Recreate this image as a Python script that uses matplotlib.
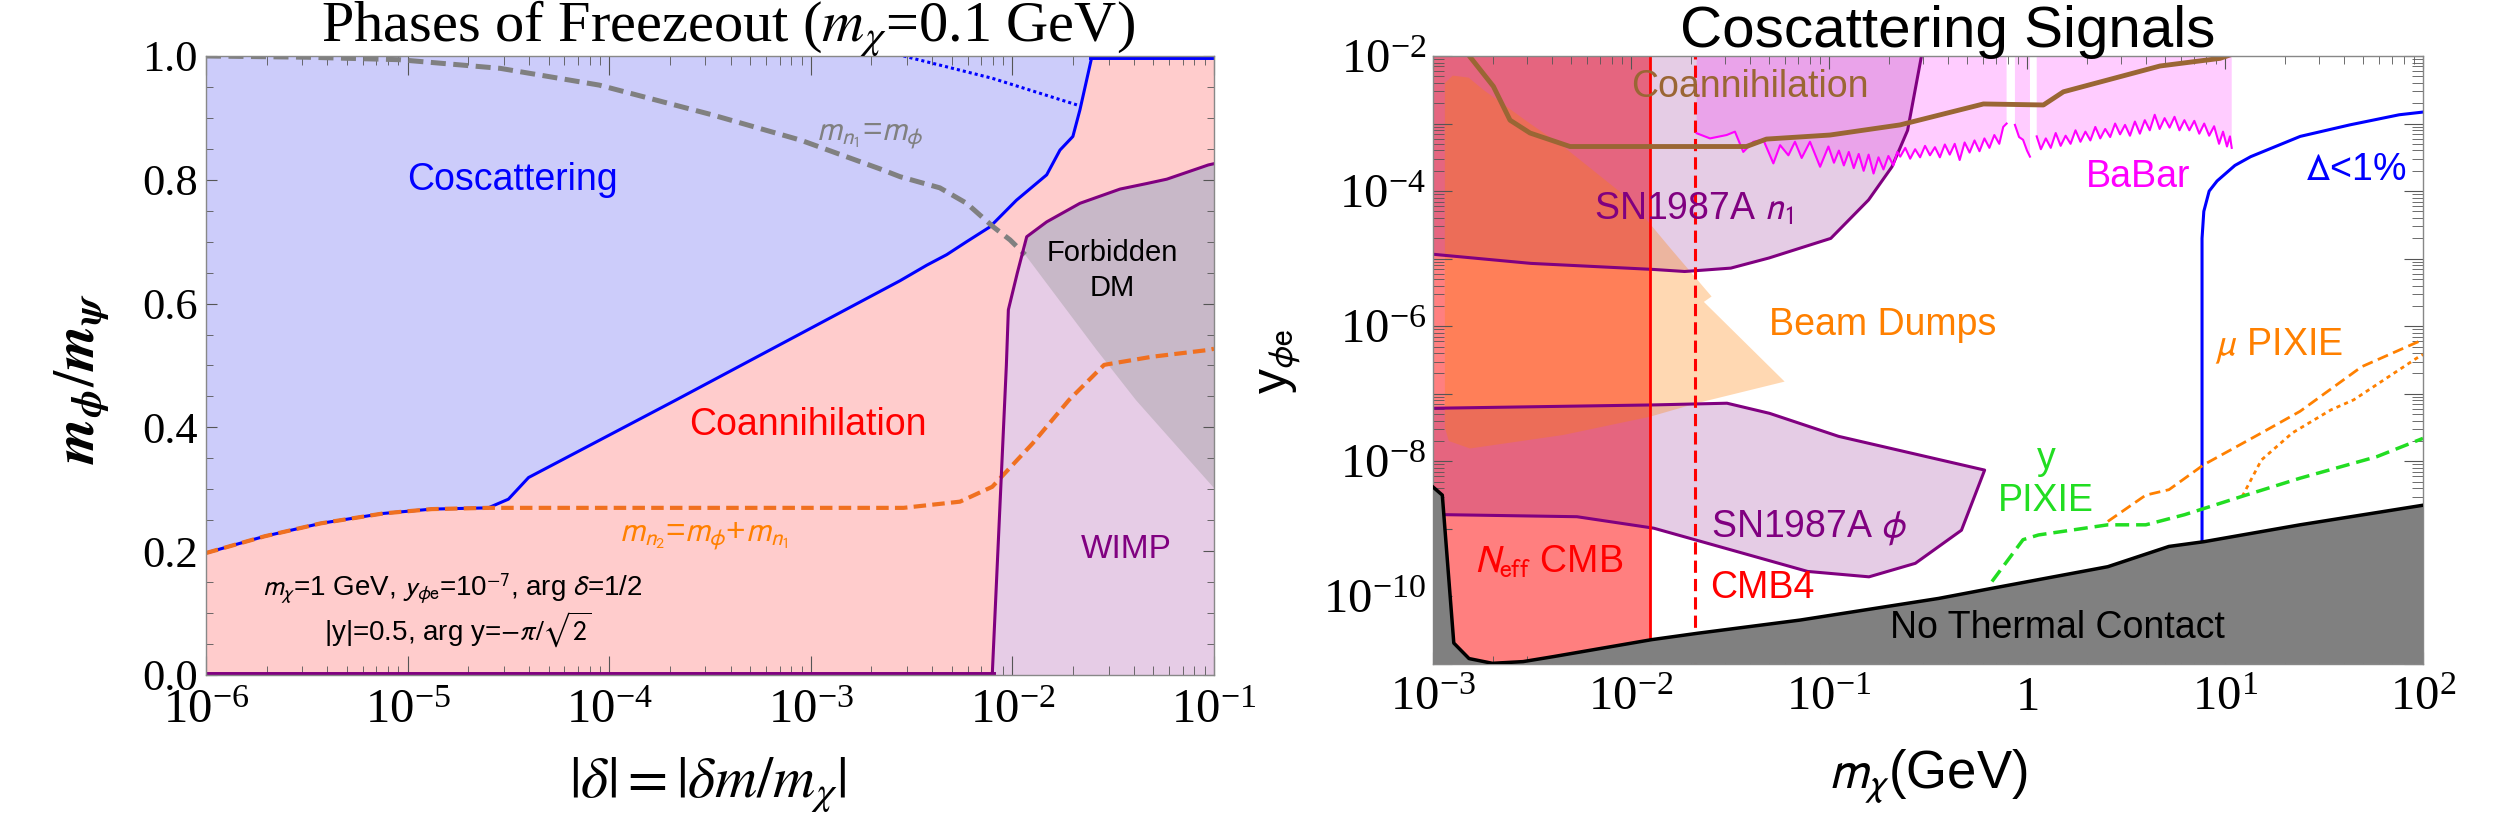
import numpy as np
import matplotlib.pyplot as plt
from matplotlib.ticker import LogLocator, MultipleLocator, FuncFormatter, NullFormatter

plt.rcParams['font.family'] = ['Liberation Serif', 'DejaVu Serif']
plt.rcParams['mathtext.fontset'] = 'stix'

SANS = ['Liberation Sans', 'DejaVu Sans']

# ---------------- left panel data: x = log10|delta|, y = m_phi/m_psi ----------------
cosc_lx = [-6, -5.71, -5.43, -5.12, -4.88, -4.60, -4.50, -4.40, -3.67, -2.557, -2.425,
           -2.326, -2.227, -2.111, -1.98, -1.83, -1.764, -1.70, -1.665, -1.605, -1.0]
cosc_y = [0.197, 0.224, 0.245, 0.261, 0.268, 0.270, 0.284, 0.319, 0.444, 0.637, 0.662,
          0.679, 0.700, 0.724, 0.767, 0.808, 0.848, 0.870, 0.913, 1.0, 1.0]

dot_lx = [-2.54, -2.10, -1.68]
dot_y = [1.0, 0.964, 0.921]

n2_lx = [-6, -5.71, -5.43, -5.12, -4.88, -4.60, -2.54, -2.26, -2.10, -1.90, -1.72,
         -1.545, -1.31, -1.03, -1.0]
n2_y = [0.197, 0.224, 0.245, 0.261, 0.268, 0.270, 0.270, 0.280, 0.304, 0.374, 0.444,
        0.501, 0.514, 0.525, 0.527]

n1_lx = [-6, -5.5, -5.04, -4.54, -4.05, -3.49, -3.05, -2.66, -2.557, -2.36, -2.227,
         -2.095, -2.012, -1.937]
n1_y = [1.0, 0.998, 0.994, 0.980, 0.953, 0.905, 0.864, 0.818, 0.805, 0.787, 0.762,
        0.724, 0.703, 0.679]

wimp_lx = [-6, -2.10, -2.03, -2.02, -1.976, -1.929, -1.83, -1.665, -1.466, -1.333,
           -1.234, -1.028, -1.0]
wimp_y = [0, 0, 0.50, 0.59, 0.649, 0.708, 0.732, 0.762, 0.785, 0.794, 0.801, 0.824, 0.826]

forb_lx = [-1.937, -1.582, -1.387, -1.0]
forb_y = [0.679, 0.525, 0.444, 0.302]

# ---------------- right panel data: log10 m_chi (GeV), log10 y_phi_e ----------------
neff_x = 0.0125
cmb4_x = 0.021

sn1_lx = [-3, -2.506, -1.885, -1.729, -1.496, -1.303, -0.991, -0.80, -0.682, -0.603, -0.533]
sn1_ly = [-4.935, -5.07, -5.16, -5.19, -5.14, -4.99, -4.70, -4.13, -3.64, -3.10, -2.0]

snphi_lx = [-3, -1.885, -1.515, -1.30, -0.952, -0.583, -0.214, -0.331, -0.564, -0.798,
            -1.108, -1.496, -1.885, -2.273, -2.934, -3]
snphi_ly = [-7.215, -7.165, -7.14, -7.29, -7.63, -7.88, -8.13, -9.02, -9.51, -9.71,
            -9.63, -9.31, -8.99, -8.82, -8.79, -8.79]

beam_lx = [-2.94, -2.90, -2.82, -2.746, -2.51, -2.342, -2.005, -1.80, -1.593, -1.632,
           -1.224, -1.668, -1.904, -2.342, -2.813, -2.92, -2.94]
beam_ly = [-2.40, -2.29, -2.32, -2.50, -3.0, -3.34, -4.13, -4.85, -5.56, -5.64,
           -6.82, -7.14, -7.34, -7.61, -7.81, -7.70, -7.50]

# BaBar limit (NaN marks the vetoed resonance windows)
babar_lx = [-1.668, -1.601, -1.517, -1.475, -1.433, -1.382, -1.332, -1.281, -1.247, -1.205,
            -1.172, -1.138, -1.096, -1.045, -1.003, -0.975, -0.95, -0.925, -0.90, -0.875,
            -0.85, -0.825, -0.80, -0.775, -0.75, -0.725, -0.70, -0.675, -0.655, -0.64,
            -0.615, -0.59, -0.565, -0.54, -0.515, -0.49, -0.465, -0.44, -0.415,
            -0.39, -0.365, -0.34, -0.315, -0.29, -0.265, -0.24, -0.215, -0.19, -0.165,
            -0.14, -0.12, -0.103, -0.08, -0.061, -0.04, -0.02, 0.0, 0.015, 0.03,
            0.049, 0.07, 0.095, 0.12, 0.145, 0.17, 0.195, 0.22, 0.245, 0.27,
            0.295, 0.32, 0.345, 0.37, 0.395, 0.42, 0.445, 0.47, 0.495, 0.52,
            0.545, 0.57, 0.595, 0.62, 0.645, 0.67, 0.695, 0.72, 0.745, 0.77,
            0.795, 0.82, 0.845, 0.87, 0.895, 0.92, 0.945, 0.97, 0.99, 1.01, 1.025, 1.034]
babar_ly = [-3.144, -3.22, -3.17, -3.12, -3.42, -3.27, -3.24, -3.59, -3.32, -3.47,
            -3.27, -3.51, -3.27, -3.64, -3.34, -3.58, -3.40, -3.62, -3.42, -3.66,
            -3.45, -3.70, -3.46, -3.74, -3.50, -3.68, -3.48, -3.62, -3.42, -3.49,
            -3.36, -3.52, -3.38, -3.50, -3.33, -3.47, -3.35, -3.50, -3.31,
            -3.46, -3.30, -3.54, -3.28, -3.43, -3.25, -3.41, -3.22, -3.36, -3.17,
            -3.30, -3.05, -3.00, np.nan, -3.02, -3.20, -3.24, -3.40, -3.49, np.nan,
            -3.19, -3.38, -3.22, -3.36, -3.14, -3.33, -3.18, -3.30, -3.10, -3.27,
            -3.12, -3.25, -3.05, -3.22, -3.08, -3.20, -3.00, -3.16, -3.02, -3.18,
            -2.97, -3.15, -2.95, -3.10, -2.87, -3.08, -2.92, -3.06, -2.90, -3.10,
            -2.95, -3.10, -2.96, -3.15, -3.00, -3.18, -3.04, -3.30, -3.12, -3.34, -3.19, -3.36]

coan_lx = [-2.83, -2.695, -2.611, -2.51, -2.308, -1.417, -1.316, -0.995, -0.641, -0.22,
           0.083, 0.184, 0.672, 0.975, 1.03]
coan_ly = [-1.95, -2.45, -2.95, -3.14, -3.34, -3.34, -3.23, -3.17, -3.02, -2.71,
           -2.725, -2.53, -2.148, -2.035, -1.98]

delta_lx = [0.884, 0.884, 0.893, 0.92, 0.96, 1.05, 1.13, 1.38, 1.63, 1.88, 2.0]
delta_ly = [-9.2, -4.7, -4.3, -4.0, -3.85, -3.62, -3.49, -3.19, -3.02, -2.87, -2.83]

mu_dash_lx = [0.408, 0.60, 0.717, 0.893, 1.184, 1.379, 1.69, 1.96, 2.0]
mu_dash_ly = [-8.89, -8.50, -8.42, -8.05, -7.58, -7.26, -6.60, -6.25, -6.20]
mu_dot_lx = [1.087, 1.184, 1.34, 1.534, 1.65, 1.98, 2.0]
mu_dot_ly = [-8.52, -7.98, -7.58, -7.24, -7.09, -6.45, -6.42]

ypix_lx = [-0.177, -0.02, 0.058, 0.408, 0.60, 0.796, 1.106, 1.379, 1.768, 2.0]
ypix_ly = [-9.78, -9.16, -9.09, -8.94, -8.94, -8.79, -8.50, -8.25, -7.93, -7.66]

ntc_lx = [-3, -2.953, -2.895, -2.818, -2.70, -2.545, -2.39, -1.896, -1.663, -1.146,
          -0.447, -0.177, 0.408, 0.717, 0.893, 1.379, 2.0]
ntc_ly = [-8.38, -8.50, -10.69, -10.92, -10.99, -10.965, -10.89, -10.64, -10.545, -10.35,
          -10.03, -9.88, -9.56, -9.26, -9.19, -8.94, -8.65]


def p10(a):
    return np.power(10.0, np.asarray(a, dtype=float))


def style_axes(a):
    a.tick_params(which='both', direction='in', top=True, right=True, color='#555555')
    for s in a.spines.values():
        s.set_color('#888888')
        s.set_linewidth(1.0)


fig = plt.figure(figsize=(25, 8.15), dpi=100)

# ================= left panel =================
ax = fig.add_axes([0.0824, 0.1718, 0.4032, 0.7595])
ax.set_xscale('log')
ax.set_xlim(1e-6, 1e-1)
ax.set_ylim(0, 1)

bx, by = p10(cosc_lx), np.array(cosc_y)
wx, wy = p10(wimp_lx), np.array(wimp_y)
itop = cosc_y.index(1.0)
ax.fill(np.r_[1e-6, bx[:itop + 1]], np.r_[1.0, by[:itop + 1]], color='#ccccfa', lw=0)
ax.fill(np.r_[bx, wx[::-1]], np.r_[by, wy[::-1]], color='#ffcccc', lw=0)
ax.fill(np.r_[wx[1:], 1e-1], np.r_[wy[1:], 0.0], color='#e6cce6', lw=0)
sel = np.array(wimp_lx) >= -1.93
ax.fill(np.r_[p10(forb_lx), wx[sel][::-1]], np.r_[forb_y, wy[sel][::-1]],
        color='#c8b8c8', lw=0)

ax.plot(bx, by, color='blue', lw=2.2)
ax.plot(bx[itop:], by[itop:], color='blue', lw=5)      # edge segment along the top
ax.plot(p10(dot_lx), dot_y, color='blue', lw=2.2, ls=(0, (1, 1)))
ax.plot(p10(n2_lx), n2_y, color='#f07020', lw=3, dashes=(3, 1.5))
ax.plot(p10(n1_lx), n1_y, color='#808080', lw=3.6, dashes=(3, 1.5))
ax.plot(wx, wy, color='purple', lw=2.2)
ax.plot(wx[:2], wy[:2], color='purple', lw=5)          # edge segment along the bottom

ax.text(p10(-4.482), 0.80, 'Coscattering', color='blue', fontsize=27, family=SANS,
        ha='center', va='center')
ax.text(p10(-2.706), 0.872, r'$m_{n_1}$=$m_\phi$', color='#808080', fontsize=24,
        family=SANS, math_fontfamily='stixsans', ha='center', va='center')
ax.text(p10(-1.504), 0.653, 'Forbidden\nDM', color='black', fontsize=21, family=SANS,
        ha='center', va='center', linespacing=1.3)
ax.text(p10(-3.014), 0.404, 'Coannihilation', color='red', fontsize=27, family=SANS,
        ha='center', va='center')
ax.text(p10(-3.53), 0.2235, r'$m_{n_2}$=$m_\phi$+$m_{n_1}$', color='#ff8000', fontsize=24,
        family=SANS, math_fontfamily='stixsans', ha='center', va='center')
ax.text(p10(-1.437), 0.202, 'WIMP', color='purple', fontsize=24, family=SANS,
        ha='center', va='center')
ax.text(p10(-4.78), 0.140, r'$m_\chi$=1 GeV, $y_{\phi \mathrm{e}}$=10$^{-7}$, arg $\delta$=1/2',
        color='black', fontsize=20, family=SANS, math_fontfamily='stixsans',
        ha='center', va='center')
ax.text(p10(-4.75), 0.0727, r'|y|=0.5, arg y=$-\pi/\sqrt{2}$', color='black', fontsize=20,
        family=SANS, math_fontfamily='stixsans', ha='center', va='center')

style_axes(ax)
ax.yaxis.set_major_locator(MultipleLocator(0.2))
ax.yaxis.set_minor_locator(MultipleLocator(0.05))
ax.yaxis.set_major_formatter(FuncFormatter(lambda v, p: '%.1f' % v))
ax.xaxis.set_major_locator(LogLocator(base=10, numticks=10))
ax.xaxis.set_minor_locator(LogLocator(base=10, subs=np.arange(2, 10), numticks=10))
ax.xaxis.set_minor_formatter(NullFormatter())
ax.tick_params(axis='x', which='major', length=14, pad=10, labelsize=35)
ax.tick_params(axis='x', which='minor', length=6.5)
ax.tick_params(axis='y', which='major', length=8, pad=6, labelsize=32)
ax.tick_params(axis='y', which='minor', length=5)

fig.text(0.291, 0.965, r'Phases of Freezeout ($m_\chi$=0.1 GeV)', fontsize=42,
         ha='center', va='center')
fig.text(0.033, 0.536, r'$\mathbfit{m}_{\mathbfit{\phi}}/\mathbfit{m}_{\mathbfit{\psi}}$',
         fontsize=42, rotation=90, ha='center', va='center')
fig.text(0.2832, 0.036, r'$|\delta|{=}|\delta m/m_\chi|$', fontsize=42,
         ha='center', va='center')

# ================= right panel =================
ax2 = fig.add_axes([0.5732, 0.1853, 0.396, 0.746])
ax2.set_xscale('log')
ax2.set_yscale('log')
ax2.set_xlim(1e-3, 1e2)
ax2.set_ylim(1e-11, 1e-2)

ax2.axvspan(1e-3, neff_x, color='red', alpha=0.5, lw=0)
ax2.fill(np.r_[p10(sn1_lx), 1e-3], np.r_[p10(sn1_ly), 1e-2], color='purple', alpha=0.2, lw=0)
ax2.fill(p10(snphi_lx), p10(snphi_ly), color='purple', alpha=0.2, lw=0)
ax2.fill(p10(beam_lx), p10(beam_ly), color='#ff8000', alpha=0.3, lw=0)
ax2.fill_between(p10(babar_lx), p10(babar_ly), 1e-2, color='magenta', alpha=0.2, lw=0)

ax2.plot(p10(sn1_lx), p10(sn1_ly), color='purple', lw=2.2)
ax2.plot(p10(snphi_lx), p10(snphi_ly), color='purple', lw=2.2)
ax2.axvline(neff_x, color='red', lw=2)
ax2.axvline(cmb4_x, color='red', lw=2.2, dashes=(4, 2))
ax2.plot(p10(babar_lx), p10(babar_ly), color='magenta', lw=1.5)
ax2.plot(p10(coan_lx), p10(coan_ly), color='#9a6634', lw=3.5)
ax2.plot(p10(delta_lx), p10(delta_ly), color='blue', lw=2.2)
ax2.plot(p10(mu_dash_lx), p10(mu_dash_ly), color='#ff8000', lw=2, dashes=(4, 2))
ax2.plot(p10(mu_dot_lx), p10(mu_dot_ly), color='#ff8000', lw=2, ls=(0, (1.5, 1.5)))
ax2.plot(p10(ypix_lx), p10(ypix_ly), color='#22dd22', lw=2.5, dashes=(4, 2))

ax2.fill(np.r_[p10(ntc_lx), 1e2, 1e-3], np.r_[p10(ntc_ly), 1e-11, 1e-11],
         color='#808080', lw=0, zorder=5)
ax2.plot(p10(ntc_lx), p10(ntc_ly), color='black', lw=2.5, zorder=6)

labels = [
    (-1.399, -2.454, 'Coannihilation', '#9a6634'),
    (-1.682, -4.28, r'SN1987A $n_1$', 'purple'),
    (-0.729, -5.98, 'Beam Dumps', '#ff8000'),
    (0.561, -3.79, 'BaBar', 'magenta'),
    (1.662, -3.69, r'$\Delta$<1%', 'blue'),
    (1.271, -6.30, r'$\mu$ PIXIE', '#ff8000'),
    (0.096, -8.28, 'y\nPIXIE', '#22dd22'),
    (-1.098, -8.99, r'SN1987A $\phi$', 'purple'),
    (-2.414, -9.51, r'$N_{\mathrm{eff}}$ CMB', 'red'),
    (-1.335, -9.88, 'CMB4', 'red'),
    (0.155, -10.47, 'No Thermal Contact', 'black'),
]
for lx, ly, s, c in labels:
    ax2.text(p10(lx), p10(ly), s, color=c, fontsize=27, family=SANS,
             math_fontfamily='stixsans', ha='center', va='center', zorder=7,
             linespacing=1.2)

style_axes(ax2)


def xfmt(v, p):
    e = int(round(np.log10(v)))
    return r'$\mathdefault{1}$' if e == 0 else r'$\mathdefault{10^{%d}}$' % e


def yfmt(v, p):
    e = int(round(np.log10(v)))
    return r'$\mathdefault{10^{%d}}$' % e if e % 2 == 0 else ''


ax2.xaxis.set_major_locator(LogLocator(base=10, numticks=10))
ax2.xaxis.set_minor_locator(LogLocator(base=10, subs=np.arange(2, 10), numticks=10))
ax2.xaxis.set_major_formatter(FuncFormatter(xfmt))
ax2.xaxis.set_minor_formatter(NullFormatter())
ax2.yaxis.set_major_locator(LogLocator(base=10, numticks=20))
ax2.yaxis.set_minor_locator(LogLocator(base=10, subs=np.arange(2, 10), numticks=20))
ax2.yaxis.set_major_formatter(FuncFormatter(yfmt))
ax2.yaxis.set_minor_formatter(NullFormatter())
ax2.tick_params(axis='x', which='major', length=9, pad=9, labelsize=35)
ax2.tick_params(axis='x', which='minor', length=6)
ax2.tick_params(axis='y', which='major', length=14, pad=5, labelsize=35)
ax2.tick_params(axis='y', which='minor', length=8)

fig.text(0.779, 0.961, 'Coscattering Signals', fontsize=42, family=SANS,
         ha='center', va='center')
fig.text(0.5124, 0.556, r'y$_{\phi \mathrm{e}}$', fontsize=36, family=SANS,
         math_fontfamily='stixsans', rotation=90, ha='center', va='center')
fig.text(0.771, 0.047, r'$m_\chi$(GeV)', fontsize=38, family=SANS,
         math_fontfamily='stixsans', ha='center', va='center')

fig.savefig('out.png', dpi=100)
